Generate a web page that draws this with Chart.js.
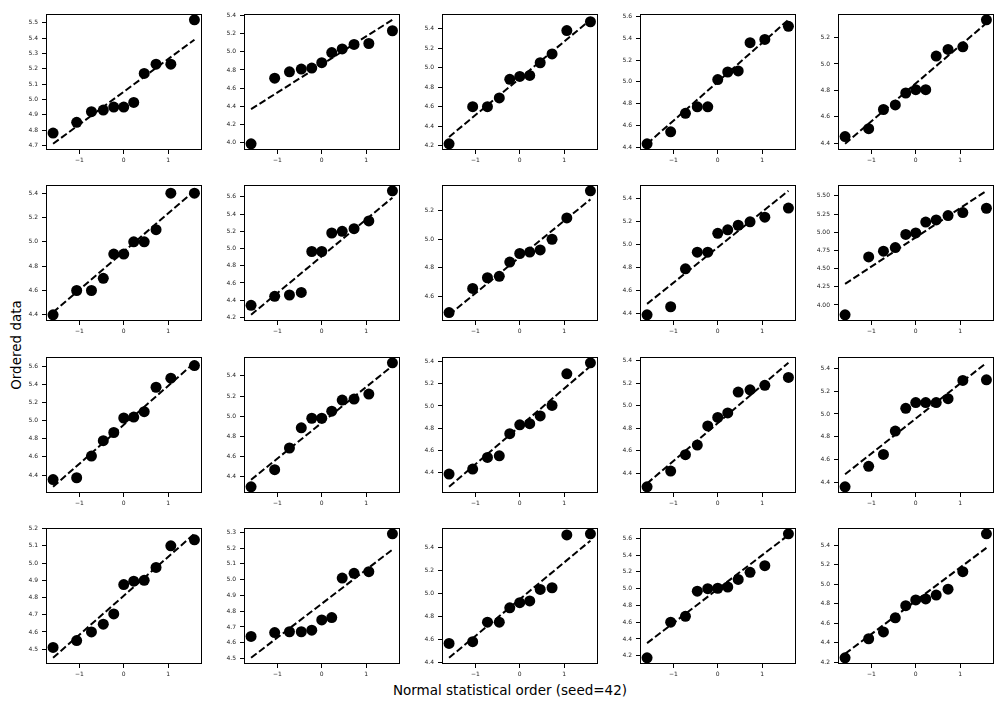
<!DOCTYPE html>
<html>
<head>
<meta charset="utf-8">
<script src="https://cdn.jsdelivr.net/npm/chart.js@4.4.1/dist/chart.umd.min.js"></script>
<style>
  html, body { margin: 0; padding: 0; background: #fff; }
  #wrap { position: relative; width: 1004px; height: 707px; overflow: hidden; font-family: "DejaVu Sans", sans-serif; }
  .panel { position: absolute; }
  #ylab { position: absolute; left: 16px; top: 345px; transform: translate(-50%, -50%) rotate(-90deg); font-size: 13.5px; white-space: nowrap; }
  #xlab { position: absolute; left: 510px; top: 690px; transform: translate(-50%, -50%); font-size: 13.5px; white-space: nowrap; }
</style>
</head>
<body>
<div id="wrap">
  <div id="ylab">Ordered data</div>
  <div id="xlab">Normal statistical order (seed=42)</div>
</div>
<script>
// theoretical quantiles, same for every panel
const xOrder = [-1.593, -1.061, -0.728, -0.461, -0.225, 0, 0.225, 0.461, 0.728, 1.061, 1.593];

// ordered samples, row by row
const yData = [
  [4.78, 4.85, 4.92, 4.93, 4.95, 4.95, 4.98, 5.17, 5.23, 5.23, 5.52],
  [3.99, 4.71, 4.78, 4.81, 4.82, 4.88, 4.99, 5.03, 5.08, 5.09, 5.23],
  [4.22, 4.60, 4.60, 4.69, 4.88, 4.91, 4.92, 5.05, 5.14, 5.38, 5.47],
  [4.43, 4.54, 4.71, 4.77, 4.77, 5.02, 5.09, 5.10, 5.36, 5.39, 5.51],
  [4.45, 4.51, 4.655, 4.69, 4.78, 4.805, 4.805, 5.06, 5.11, 5.13, 5.335],

  [4.40, 4.60, 4.60, 4.70, 4.90, 4.90, 5.00, 5.00, 5.10, 5.40, 5.40],
  [4.34, 4.445, 4.46, 4.49, 4.965, 4.965, 5.18, 5.20, 5.23, 5.32, 5.67],
  [4.486, 4.655, 4.73, 4.74, 4.84, 4.90, 4.91, 4.925, 5.00, 5.15, 5.34],
  [4.39, 4.46, 4.79, 4.935, 4.935, 5.10, 5.13, 5.17, 5.20, 5.24, 5.32],
  [3.865, 4.66, 4.74, 4.79, 4.97, 4.99, 5.14, 5.17, 5.23, 5.27, 5.33],

  [4.35, 4.37, 4.61, 4.78, 4.87, 5.03, 5.04, 5.10, 5.37, 5.47, 5.61],
  [4.30, 4.47, 4.685, 4.885, 4.98, 4.98, 5.05, 5.16, 5.17, 5.22, 5.53],
  [4.385, 4.43, 4.535, 4.55, 4.75, 4.83, 4.84, 4.91, 5.005, 5.29, 5.39],
  [4.28, 4.42, 4.565, 4.65, 4.82, 4.895, 4.935, 5.12, 5.14, 5.18, 5.25],
  [4.36, 4.54, 4.645, 4.85, 5.05, 5.10, 5.10, 5.10, 5.135, 5.295, 5.30],

  [4.51, 4.55, 4.60, 4.645, 4.705, 4.875, 4.895, 4.90, 4.975, 5.10, 5.135],
  [4.64, 4.665, 4.67, 4.67, 4.68, 4.745, 4.76, 5.01, 5.04, 5.05, 5.29],
  [4.565, 4.58, 4.75, 4.75, 4.875, 4.92, 4.935, 5.035, 5.05, 5.51, 5.52],
  [4.175, 4.60, 4.67, 4.97, 5.00, 5.005, 5.02, 5.11, 5.195, 5.275, 5.655],
  [4.244, 4.44, 4.51, 4.655, 4.78, 4.84, 4.85, 4.89, 4.95, 5.13, 5.52],
];

// fitted line, value at first and last quantile
const lineStart = [4.71, 4.37, 4.29, 4.43, 4.395, 4.42, 4.23, 4.47, 4.485, 4.29,
                   4.27, 4.37, 4.27, 4.31, 4.47, 4.45, 4.505, 4.44, 4.35, 4.285];
const lineEnd   = [5.39, 5.35, 5.49, 5.57, 5.31, 5.42, 5.59, 5.28, 5.47, 5.57,
                   5.64, 5.50, 5.36, 5.38, 5.45, 5.17, 5.19, 5.46, 5.64, 5.375];

// y tick spacing per panel
const yStep = [0.1, 0.2, 0.2, 0.2, 0.2, 0.2, 0.2, 0.2, 0.2, 0.25,
               0.2, 0.2, 0.2, 0.2, 0.2, 0.1, 0.1, 0.2, 0.2, 0.2];
const xTicks = [-1, 0, 1];

const plotLeft = [46, 244, 442, 640, 838];
const plotTop = [10, 181, 353, 524];
const PLOT_W = 157, PLOT_H = 140;
const Y_AXIS_W = 30, X_AXIS_H = 18, PAD = 4;

const tickFont = { size: 6, family: '"DejaVu Sans", sans-serif' };

const frame = {
  id: 'frame',
  afterDraw(chart) {
    const a = chart.chartArea, ctx = chart.ctx;
    ctx.save();
    ctx.strokeStyle = '#000';
    ctx.lineWidth = 1;
    ctx.strokeRect(Math.round(a.left) + 0.5, Math.round(a.top) + 0.5,
                   Math.round(a.right - a.left) - 1, Math.round(a.bottom - a.top) - 1);
    ctx.restore();
  },
};

function minus(s) { return s.replace('-', '\u2212'); }

function makePanel(k) {
  const r = Math.floor(k / 5), c = k % 5;
  const ys = yData[k];
  const all = ys.concat([lineStart[k], lineEnd[k]]);
  const lo = Math.min(...all), hi = Math.max(...all);
  const m = (hi - lo) * 0.05;
  const yMin = lo - m, yMax = hi + m;
  const xm = (xOrder[10] - xOrder[0]) * 0.05;
  const step = yStep[k];
  const dec = step < 0.1 || step === 0.25 ? 2 : 1;

  const cv = document.createElement('canvas');
  const w = Y_AXIS_W + PLOT_W + PAD, h = PAD + PLOT_H + X_AXIS_H;
  cv.width = w; cv.height = h;
  cv.style.width = w + 'px'; cv.style.height = h + 'px';
  cv.className = 'panel';
  cv.style.left = (plotLeft[c] - Y_AXIS_W) + 'px';
  cv.style.top = (plotTop[r] - PAD) + 'px';
  document.getElementById('wrap').appendChild(cv);

  new Chart(cv, {
    type: 'scatter',
    data: {
      datasets: [
        {
          data: [{ x: xOrder[0], y: lineStart[k] }, { x: xOrder[10], y: lineEnd[k] }],
          showLine: true,
          borderColor: '#000',
          borderWidth: 2,
          borderDash: [7, 3],
          pointRadius: 0,
          order: 0,
        },
        {
          data: xOrder.map((x, i) => ({ x, y: ys[i] })),
          pointRadius: 5.5,
          backgroundColor: '#000',
          borderWidth: 0,
          order: 1,
        },
      ],
    },
    options: {
      responsive: false,
      animation: false,
      devicePixelRatio: 1,
      layout: { padding: { top: PAD, right: PAD, left: 0, bottom: 0 } },
      plugins: { legend: { display: false }, tooltip: { enabled: false } },
      scales: {
        x: {
          type: 'linear',
          min: xOrder[0] - xm,
          max: xOrder[10] + xm,
          afterBuildTicks(s) { s.ticks = xTicks.map(v => ({ value: v })); },
          afterFit(s) { s.height = X_AXIS_H; },
          border: { display: false },
          grid: { drawOnChartArea: false, drawTicks: true, tickLength: 4, color: '#000', lineWidth: 1 },
          ticks: {
            font: tickFont, color: '#222', padding: 3, maxRotation: 0, autoSkip: false,
            callback(v) { return minus(String(v)); },
          },
        },
        y: {
          type: 'linear',
          min: yMin,
          max: yMax,
          afterBuildTicks(s) {
            const t = [];
            for (let v = Math.ceil(yMin / step - 1e-9) * step; v <= yMax + 1e-9; v += step) {
              t.push({ value: Math.round(v * 1000) / 1000 });
            }
            s.ticks = t;
          },
          afterFit(s) { s.width = Y_AXIS_W; },
          border: { display: false },
          grid: { drawOnChartArea: false, drawTicks: true, tickLength: 4, color: '#000', lineWidth: 1 },
          ticks: {
            font: tickFont, color: '#222', padding: 4, autoSkip: false,
            callback(v) { return minus(Number(v).toFixed(dec)); },
          },
        },
      },
    },
    plugins: [frame],
  });
}

for (let k = 0; k < 20; k++) makePanel(k);
</script>
</body>
</html>
